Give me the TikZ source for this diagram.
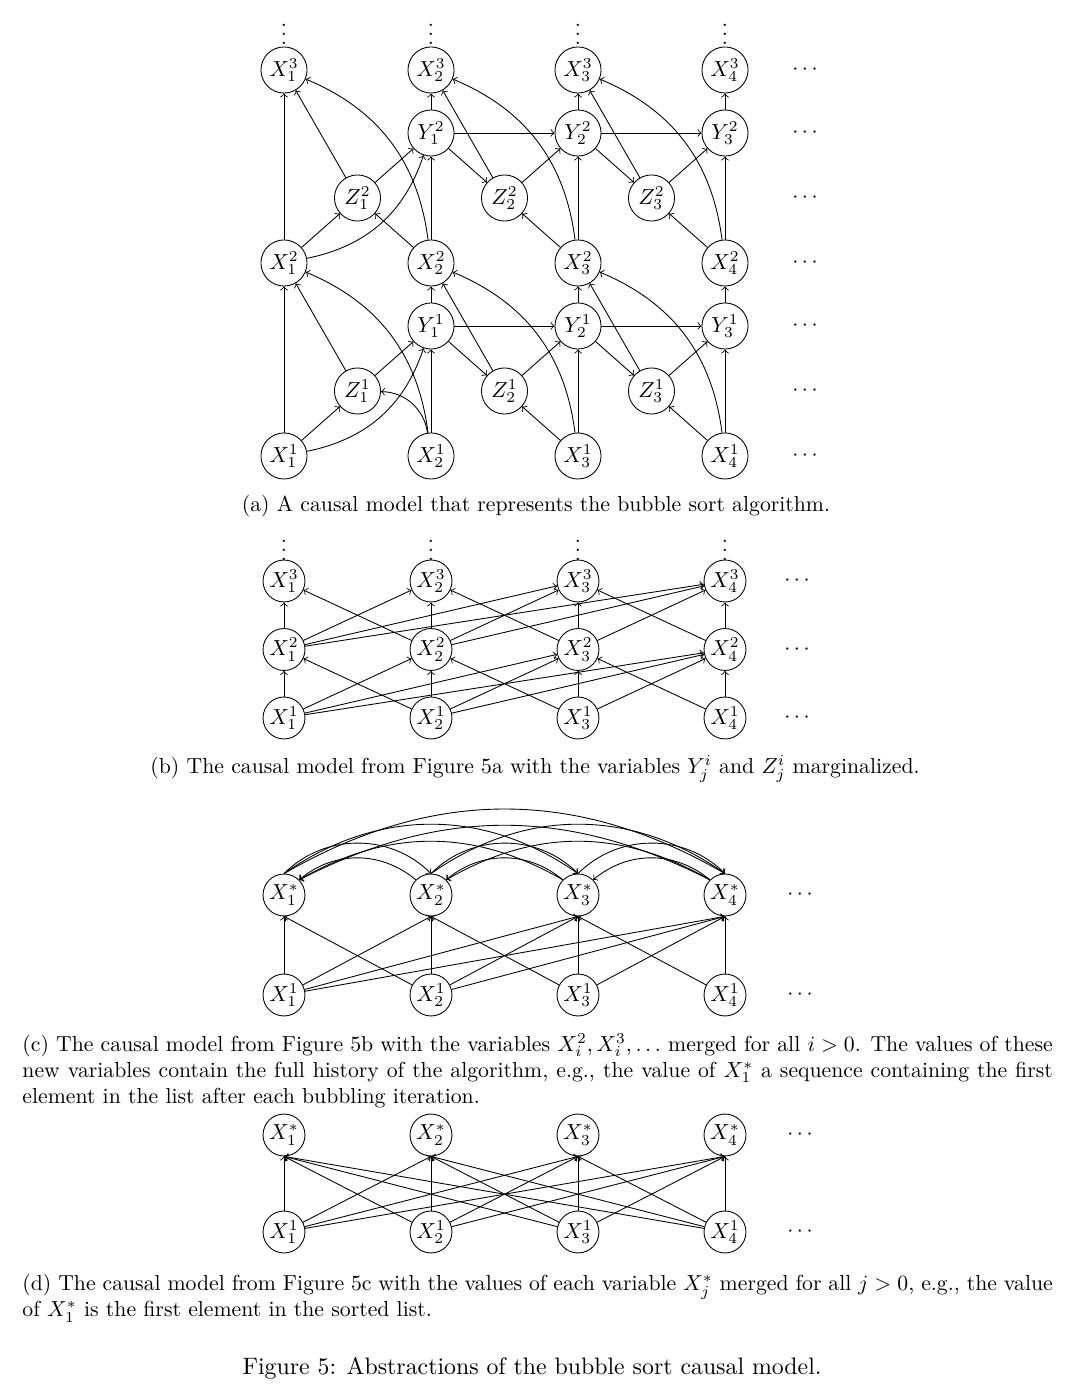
\documentclass[tikz,border=0pt]{standalone}
\tikzset{
  var/.style={circle, draw, minimum size=19.3pt, inner sep=0pt},
  bigvar/.style={var, minimum size=21.2pt},
  dotsv/.style={inner sep=0pt},
  capt/.style={anchor=north west, text width=474pt, align=justify, inner sep=0pt},
}
\begin{document}
\begin{tikzpicture}[x=0.46pt, y=0.46pt]
\useasboundingbox (0,0) rectangle (1080,1396);

% (a) bubble sort model
\foreach \j in {1,...,4} {
  \foreach \i in {1,2,3}
    \node[bigvar] (aX\j\i) at ({284+147*(\j-1)}, {940+193*(\i-1)}) {$X_{\j}^{\i}$};
  \node[dotsv] at ({284+147*(\j-1)}, 1368) {$\vdots$};
}
\foreach \j in {1,2,3} {
  \foreach \i in {1,2} {
    \node[bigvar] (aZ\j\i) at ({357.5+147*(\j-1)}, {1005+193*(\i-1)}) {$Z_{\j}^{\i}$};
    \node[bigvar] (aY\j\i) at ({431+147*(\j-1)}, {1070+193*(\i-1)}) {$Y_{\j}^{\i}$};
  }
}
\foreach \y in {940,1005,1070,1133,1198,1263,1326}
  \node at (805,\y) {$\cdots$};

\foreach \i in {1,2} {
  \pgfmathtruncatemacro{\n}{\i+1}
  \draw[->] (aX1\i) -- (aX1\n);
  \draw[->] (aX1\i) -- (aZ1\i);
  \draw[->] (aX1\i) to[bend right=30] (aY1\i);
  \draw[->] (aX2\i) -- (aY1\i);
  \draw[->] (aX2\i) to[bend right=30] (aX1\n);
  \draw[->] (aZ1\i) -- (aX1\n);
  \draw[->] (aZ1\i) -- (aY1\i);
  \foreach \j in {2,3} {
    \pgfmathtruncatemacro{\p}{\j-1}
    \pgfmathtruncatemacro{\q}{\j+1}
    \draw[->] (aY\p\i) -- (aX\j\n);
    \draw[->] (aY\p\i) -- (aZ\j\i);
    \draw[->] (aY\p\i) -- (aY\j\i);
    \draw[->] (aX\q\i) -- (aZ\j\i);
    \draw[->] (aX\q\i) -- (aY\j\i);
    \draw[->] (aX\q\i) to[bend right=30] (aX\j\n);
    \draw[->] (aZ\j\i) -- (aX\j\n);
    \draw[->] (aZ\j\i) -- (aY\j\i);
  }
  \draw[->] (aY3\i) -- (aX4\n);
}
\draw[->] (aX21) to[bend right=40] (aZ11);
\draw[->] (aX22) -- (aZ12);

\node (capa) at (536,890) {(a) A causal model that represents the bubble sort algorithm.};

% (b) Y and Z marginalized
\foreach \j in {1,...,4} {
  \foreach \i in {1,2,3}
    \node[var] (bX\j\i) at ({284+147*(\j-1)}, {678+68.5*(\i-1)}) {$X_{\j}^{\i}$};
  \node[dotsv] at ({284+147*(\j-1)}, 852) {$\vdots$};
}
\foreach \y in {678,746.5,815}
  \node at (797,\y) {$\cdots$};
\foreach \i in {1,2} {
  \pgfmathtruncatemacro{\n}{\i+1}
  \foreach \k in {1,...,4}
    \foreach \j in {1,...,4} {
      \ifnum\j<\numexpr\k+2\relax \draw[->] (bX\j\i) -- (bX\k\n); \fi
    }
}

\node (capb) at (535,627) {(b) The causal model from Figure 5a with the variables $Y_j^i$ and $Z_j^i$ marginalized.};

% (c) histories merged
\foreach \j in {1,...,4} {
  \node[var] (cB\j) at ({284+147*(\j-1)}, 401) {$X_{\j}^{1}$};
  \node[var] (cS\j) at ({284+147*(\j-1)}, 501) {$X_{\j}^{*}$};
}
\node at (800,401) {$\cdots$};
\node at (800,501) {$\cdots$};
\foreach \k in {1,...,4}
  \foreach \j in {1,...,4} {
    \ifnum\j<\numexpr\k+2\relax \draw[->] (cB\j) -- (cS\k.south); \fi
  }
\foreach \j/\k/\b in {1/2/45,1/3/35,1/4/30,2/3/45,2/4/35,3/4/45}
  \draw[->] (cS\j.north) to[bend left=\b] (cS\k.north);
\foreach \j/\k/\b in {2/1/40,3/1/30,4/1/27,3/2/40,4/2/30,4/3/40}
  \draw[->] (cS\j.north west) to[bend right=\b] (cS\k.north east);

\node[capt] (capc) at (22,363) {(c) The causal model from Figure 5b with the variables $X_i^2, X_i^3, \ldots$ merged for all $i > 0$. The values of these new variables contain the full history of the algorithm, e.g., the value of $X_1^*$ a sequence containing the first element in the list after each bubbling iteration.};

% (d) values merged
\foreach \j in {1,...,4} {
  \node[var] (dB\j) at ({284+147*(\j-1)}, 164) {$X_{\j}^{1}$};
  \node[var] (dS\j) at ({284+147*(\j-1)}, 261) {$X_{\j}^{*}$};
}
\node at (800,164) {$\cdots$};
\node at (800,261) {$\cdots$};
\foreach \k in {1,...,4}
  \foreach \j in {1,...,4}
    \draw[->] (dB\j) -- (dS\k.south);

\node[capt] (capd) at (22,122) {(d) The causal model from Figure 5c with the values of each variable $X_j^*$ merged for all $j > 0$, e.g., the value of $X_1^*$ is the first element in the sorted list.};

\node[font=\fontsize{10.95}{13.6}\selectfont] (capfig) at (532,28) {Figure 5: Abstractions of the bubble sort causal model.};
\end{tikzpicture}
\end{document}
